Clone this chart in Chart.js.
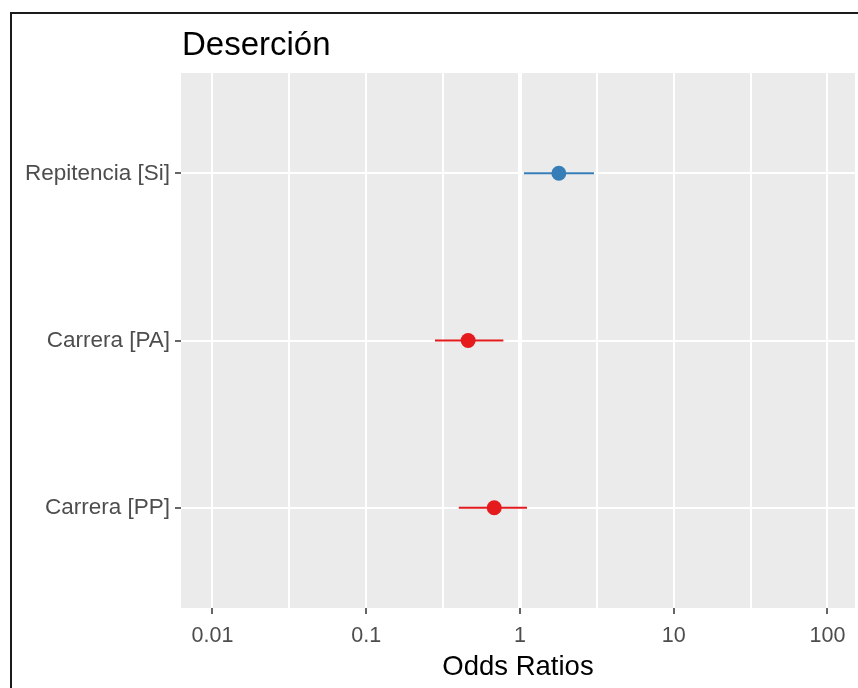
<!DOCTYPE html>
<html>
<head>
<meta charset="utf-8">
<script src="https://cdn.jsdelivr.net/npm/chart.js@4/dist/chart.umd.min.js"></script>
<style>
  html, body { margin: 0; padding: 0; background: #fff; }
  #wrap { width: 858px; height: 688px; position: relative; }
</style>
</head>
<body>
<div id="wrap"><canvas id="forest" width="858" height="688"></canvas></div>
<script>
const terms = ['Repitencia [Si]', 'Carrera [PA]', 'Carrera [PP]'];
const oddsRatios = [1.79, 0.46, 0.68];
const ciLow = [1.06, 0.28, 0.40];
const ciHigh = [3.03, 0.78, 1.11];
const termColors = ['#377EB8', '#E41A1C', '#E41A1C'];

const xMajor = [0.01, 0.1, 1, 10, 100];
const xMajorLabels = ['0.01', '0.1', '1', '10', '100'];
const xMinor = [0.0316, 0.316, 3.16, 31.6];

const FONT = "'Liberation Sans', Arial, sans-serif";

// y position for each term (first on top)
const yPos = terms.map((t, i) => terms.length - i);

const panelBg = {
    id: 'panelBg',
    beforeDraw(chart) {
        const { ctx, chartArea: a } = chart;
        ctx.save();
        ctx.fillStyle = '#EBEBEB';
        ctx.fillRect(a.left, a.top, a.right - a.left, a.bottom - a.top);
        ctx.restore();
    }
};

const titleAndFrame = {
    id: 'titleAndFrame',
    afterDraw(chart) {
        const { ctx, chartArea: a } = chart;
        ctx.save();
        ctx.fillStyle = '#000';
        ctx.font = '33px ' + FONT;
        ctx.textBaseline = 'alphabetic';
        ctx.textAlign = 'left';
        ctx.fillText('Deserción', a.left + 1, 55);

        // frame from the screenshot
        ctx.strokeStyle = '#1a1a1a';
        ctx.lineWidth = 2;
        ctx.beginPath();
        ctx.moveTo(858, 13);
        ctx.lineTo(11, 13);
        ctx.lineTo(11, 688);
        ctx.stroke();
        ctx.restore();
    }
};

const pointData = oddsRatios.map((v, i) => ({ x: v, y: yPos[i] }));

const ciSets = terms.map((t, i) => ({
    type: 'line',
    label: t,
    data: [{ x: ciLow[i], y: yPos[i] }, { x: ciHigh[i], y: yPos[i] }],
    borderColor: termColors[i],
    borderWidth: 2,
    pointRadius: 0,
    showLine: true
}));

new Chart(document.getElementById('forest'), {
    type: 'scatter',
    data: {
        datasets: [{
            label: 'OR',
            data: pointData,
            backgroundColor: termColors,
            borderColor: termColors,
            borderWidth: 0,
            pointRadius: 7.5,
            pointHoverRadius: 7.5
        }, ...ciSets]
    },
    options: {
        responsive: false,
        animation: false,
        layout: { autoPadding: false, padding: { top: 73, right: 3, left: 0, bottom: 0 } },
        plugins: {
            legend: { display: false },
            tooltip: { enabled: false }
        },
        scales: {
            x: {
                type: 'logarithmic',
                min: 0.00624,
                max: 151,
                afterBuildTicks: scale => {
                    scale.ticks = [...xMajor, ...xMinor].sort((a, b) => a - b).map(v => ({ value: v }));
                },
                afterFit: scale => { scale.height = 80; },
                border: { display: false },
                grid: {
                    color: '#ffffff',
                    lineWidth: c => (c.tick && c.tick.value === 1 ? 4 : 2),
                    tickColor: c => (c.tick && xMajor.includes(c.tick.value) ? '#333333' : 'rgba(0,0,0,0)'),
                    tickWidth: 1.5,
                    tickLength: 6
                },
                ticks: {
                    autoSkip: false,
                    maxRotation: 0,
                    padding: 9,
                    color: '#4D4D4D',
                    font: { family: FONT, size: 21.5 },
                    callback: value => {
                        const k = xMajor.indexOf(value);
                        return k >= 0 ? xMajorLabels[k] : '';
                    }
                },
                title: {
                    display: true,
                    text: 'Odds Ratios',
                    color: '#000',
                    font: { family: FONT, size: 27.5 },
                    padding: { top: 0, bottom: 4 }
                }
            },
            y: {
                type: 'linear',
                min: 0.4,
                max: 3.6,
                afterBuildTicks: scale => {
                    scale.ticks = yPos.map(v => ({ value: v }));
                },
                afterFit: scale => { scale.width = 181; },
                border: { display: false },
                grid: {
                    color: '#ffffff',
                    lineWidth: 2,
                    tickColor: '#333333',
                    tickWidth: 1.5,
                    tickLength: 6
                },
                ticks: {
                    autoSkip: false,
                    padding: 5,
                    color: '#4D4D4D',
                    font: { family: FONT, size: 22.5 },
                    callback: value => {
                        const k = yPos.indexOf(value);
                        return k >= 0 ? terms[k] : '';
                    }
                }
            }
        }
    },
    plugins: [panelBg, titleAndFrame]
});
</script>
</body>
</html>
